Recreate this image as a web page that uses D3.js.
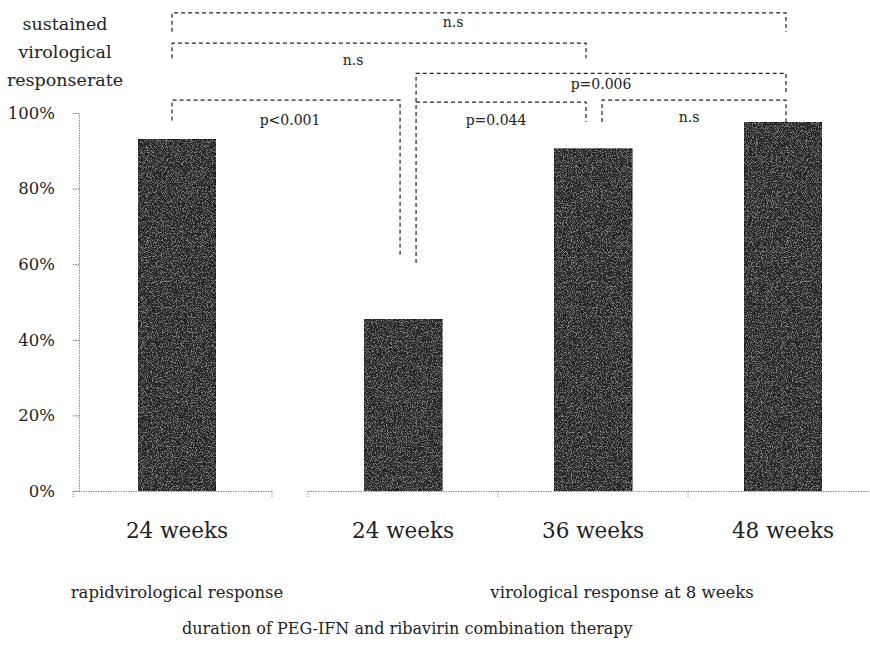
<!DOCTYPE html>
<html>
<head>
<meta charset="utf-8">
<script src="https://cdn.jsdelivr.net/npm/d3@7"></script>
<style>
  body { margin: 0; background: #fff; }
</style>
</head>
<body>
<div id="chart"></div>
<script>
// data
const categories = ["24 weeks", "24 weeks", "36 weeks", "48 weeks"];
const groupOf = [0, 1, 1, 1];
const values = [93, 45.5, 90.5, 97.5];
const groups = ["rapidvirological response", "virological response at 8 weeks"];
const yTicks = [0, 20, 40, 60, 80, 100];
const yTitle = ["sustained", "virological", "responserate"];
const xTitle = "duration of PEG-IFN and ribavirin combination therapy";

// comparisons: from / to category, label, bracket height (%), leg ends (%)
const brackets = [
    { from: 0, to: 3, label: "n.s", top: 126.5, endL: 121.5, endR: 121.5 },
    { from: 0, to: 2, label: "n.s", top: 118.5, endL: 114.5, endR: 114.5 },
    { from: 0, to: 1, label: "p<0.001", top: 103.4, endL: 98, endR: 61.9 },
    { from: 1, to: 2, label: "p=0.044", top: 102.9, endL: 60.3, endR: 97.6 },
    { from: 1, to: 3, label: "p=0.006", top: 110.5, endL: 103, endR: 105.5 },
    { from: 2, to: 3, label: "n.s", top: 103.4, endL: 97.6, endR: 97.6 }
];

const FONT = "'DejaVu Serif', 'Liberation Serif', serif";
const width = 870, height = 646;
const gap = 0.19;
const slot = i => i + gap * groupOf[i];

const svg = d3.select("#chart").append("svg")
    .attr("width", width)
    .attr("height", height)
    .attr("font-family", FONT);

const x = d3.scaleLinear().domain([0, 3 + gap]).range([177, 783]);
const y = d3.scaleLinear().domain([0, 100]).range([491, 113]);
const barW = 78;

// grainy fill like the scanned print
const defs = svg.append("defs");
const f = defs.append("filter").attr("id", "grain")
    .attr("x", 0).attr("y", 0).attr("width", 1).attr("height", 1);
f.append("feTurbulence").attr("type", "fractalNoise")
    .attr("baseFrequency", 1.2).attr("numOctaves", 1).attr("seed", 5).attr("result", "noise");
f.append("feColorMatrix").attr("in", "noise").attr("type", "matrix")
    .attr("values", "0 0 0 0 0.5  0 0 0 0 0.5  0 0 0 0 0.5  2.2 0 0 0 -1.1")
    .attr("result", "specks");
f.append("feComposite").attr("in", "specks").attr("in2", "SourceAlpha")
    .attr("operator", "in").attr("result", "clipped");
const merge = f.append("feMerge");
merge.append("feMergeNode").attr("in", "SourceGraphic");
merge.append("feMergeNode").attr("in", "clipped");

// y axis
const yAxis = svg.append("g")
    .attr("transform", "translate(79,0)")
    .call(d3.axisLeft(y).tickValues(yTicks).tickFormat(d => d + "%").tickSize(6).tickSizeOuter(0));
yAxis.attr("font-family", FONT);
yAxis.select(".domain").attr("stroke", "#8a8a8a").attr("stroke-dasharray", "1.5,1");
yAxis.selectAll(".tick line").attr("stroke", "#666").attr("stroke-dasharray", "1.5,1");
yAxis.selectAll(".tick text")
    .attr("x", -24)
    .attr("font-size", 16.5)
    .attr("fill", "#222");

// x axis, one dotted segment per group
const segs = [
    { a: 73, b: x(slot(0) + 0.5), ticks: [] },
    { a: x(slot(1) - 0.5), b: width, ticks: [x(slot(1) + 0.5), x(slot(2) + 0.5)] }
];
segs.forEach(s => {
    svg.append("line")
        .attr("x1", s.a).attr("x2", s.b)
        .attr("y1", y(0) + 0.5).attr("y2", y(0) + 0.5)
        .attr("stroke", "#8a8a8a").attr("stroke-dasharray", "1.5,1");
    [s.a, s.b].concat(s.ticks).forEach(t => {
        if (t >= width) return;
        svg.append("line")
            .attr("x1", t).attr("x2", t)
            .attr("y1", y(0)).attr("y2", y(0) + 6)
            .attr("stroke", "#8a8a8a").attr("stroke-dasharray", "1.5,1");
    });
});

// bars
svg.selectAll(".bar")
    .data(values)
    .join("rect")
    .attr("class", "bar")
    .attr("x", (d, i) => x(slot(i)) - barW / 2)
    .attr("width", barW)
    .attr("y", d => y(d))
    .attr("height", d => y(0) - y(d))
    .attr("fill", "#262626")
    .attr("stroke", "#151515")
    .attr("filter", "url(#grain)");

// category labels
svg.selectAll(".cat")
    .data(categories)
    .join("text")
    .attr("class", "cat")
    .attr("x", (d, i) => x(slot(i)))
    .attr("y", 538)
    .attr("text-anchor", "middle")
    .attr("font-size", 21.5)
    .attr("fill", "#222")
    .text(d => d);

// group labels
const groupX = [x(slot(0)), x(slot(2)) + 29];
svg.selectAll(".grp")
    .data(groups)
    .join("text")
    .attr("class", "grp")
    .attr("x", (d, i) => groupX[i])
    .attr("y", 598)
    .attr("text-anchor", "middle")
    .attr("font-size", 16.5)
    .attr("fill", "#222")
    .text(d => d);

svg.append("text")
    .attr("x", 182)
    .attr("y", 634)
    .attr("font-size", 16)
    .attr("fill", "#222")
    .text(xTitle);

// y title
svg.selectAll(".ytitle")
    .data(yTitle)
    .join("text")
    .attr("class", "ytitle")
    .attr("x", 65)
    .attr("y", (d, i) => 30 + i * 28)
    .attr("text-anchor", "middle")
    .attr("font-size", 17.5)
    .attr("fill", "#222")
    .text(d => d);

// significance brackets; legs sit just beside the bar centres
const legL = { 0: -5, 1: 13, 2: 9 };
const legR = { 1: -3, 2: -7, 3: 3 };
const labelShift = [-26, -26, 4, -5, 0, -5];
const labelDrop = [14, 22, 25, 23, 16, 22];

brackets.forEach((b, k) => {
    const xl = x(slot(b.from)) + legL[b.from];
    const xr = x(slot(b.to)) + legR[b.to];
    svg.append("path")
        .attr("d", d3.line()([[xl, y(b.endL)], [xl, y(b.top)], [xr, y(b.top)], [xr, y(b.endR)]]))
        .attr("fill", "none")
        .attr("stroke", "#222")
        .attr("stroke-width", 1.2)
        .attr("stroke-dasharray", "4,3");
    svg.append("text")
        .attr("x", (xl + xr) / 2 + labelShift[k])
        .attr("y", y(b.top) + labelDrop[k])
        .attr("text-anchor", "middle")
        .attr("font-size", 14)
        .attr("fill", "#222")
        .text(b.label);
});
</script>
</body>
</html>
